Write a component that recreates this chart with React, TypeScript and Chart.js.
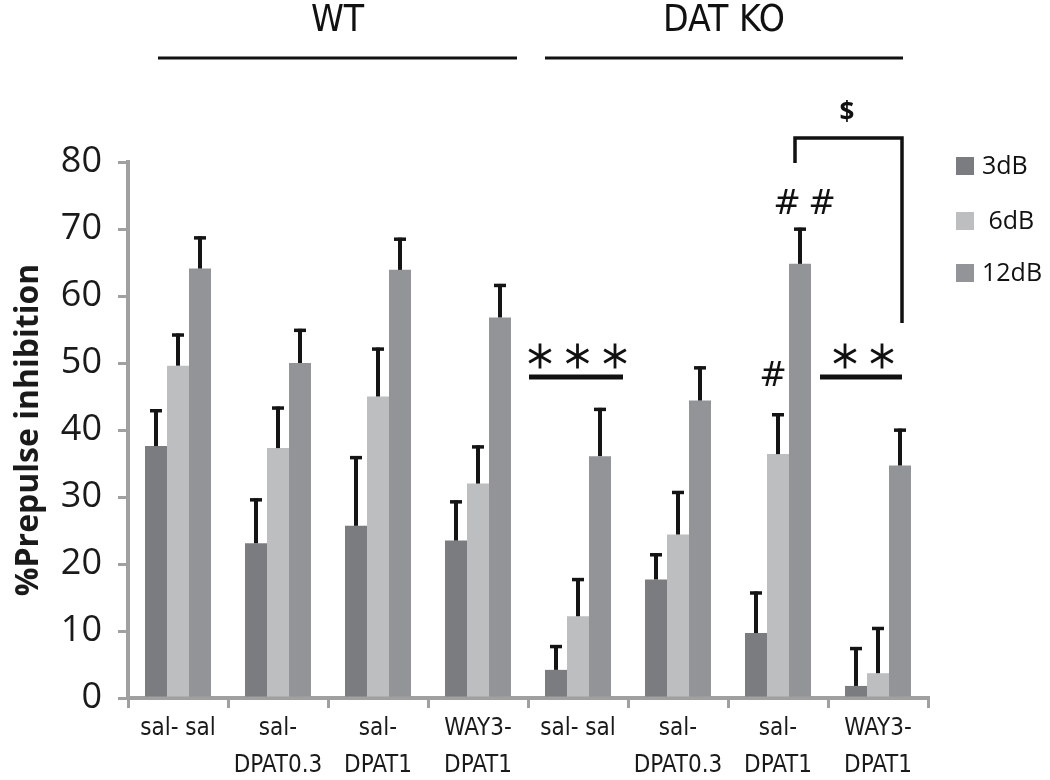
import React, { useEffect, useRef } from "react";
import { Chart, registerables } from "chart.js";

Chart.register(...registerables);

// ---- data ----
const categories: string[][] = [
  ["sal- sal"],
  ["sal-", "DPAT0.3"],
  ["sal-", "DPAT1"],
  ["WAY3-", "DPAT1"],
  ["sal- sal"],
  ["sal-", "DPAT0.3"],
  ["sal-", "DPAT1"],
  ["WAY3-", "DPAT1"],
];
const seriesNames = ["3dB", " 6dB", "12dB"];
const db3 = [37.6, 23.1, 25.7, 23.5, 4.2, 17.7, 9.7, 1.8];
const db3Sem = [5.5, 6.7, 10.4, 6.0, 3.7, 3.9, 6.2, 5.8];
const db6 = [49.6, 37.3, 45.0, 32.0, 12.2, 24.4, 36.4, 3.7];
const db6Sem = [4.8, 6.2, 7.3, 5.7, 5.7, 6.5, 6.1, 6.9];
const db12 = [64.1, 50.0, 63.9, 56.8, 36.1, 44.4, 64.8, 34.7];
const db12Sem = [4.8, 5.1, 4.8, 5.0, 7.2, 5.1, 5.4, 5.5];
const yMin = 0;
const yMax = 80;
const yStep = 10;
const groupLabels = ["WT", "DAT KO"];
const sigTriple = "***";
const sigDouble = "**";
const hashSingle = "#";
const hashDouble = "##";
const dollar = "$";

const colors = ["#7b7c80", "#bdbec0", "#939498"];
const axisGray = "#a0a0a0";
const SANS = "'Open Sans', 'DejaVu Sans', sans-serif";
const NARROW = "'Liberation Sans Narrow', 'DejaVu Sans Condensed', sans-serif";

function drawAsterisk(ctx: CanvasRenderingContext2D, cx: number, cy: number, r: number) {
  ctx.save();
  ctx.strokeStyle = "#111";
  ctx.lineWidth = 2.8;
  ctx.lineCap = "butt";
  for (const a of [90, 30, 150]) {
    const rad = (a * Math.PI) / 180;
    ctx.beginPath();
    ctx.moveTo(cx - r * Math.cos(rad), cy - r * Math.sin(rad));
    ctx.lineTo(cx + r * Math.cos(rad), cy + r * Math.sin(rad));
    ctx.stroke();
  }
  ctx.restore();
}

const errorBarPlugin = {
  id: "errorBars",
  afterDatasetsDraw(chart: any) {
    const ctx = chart.ctx;
    const y = chart.scales.y;
    const sems = [db3Sem, db6Sem, db12Sem];
    ctx.save();
    ctx.strokeStyle = "#141414";
    chart.data.datasets.forEach((ds: any, di: number) => {
      const meta = chart.getDatasetMeta(di);
      meta.data.forEach((bar: any, i: number) => {
        const top = y.getPixelForValue(ds.data[i] + sems[di][i]);
        const base = y.getPixelForValue(ds.data[i]);
        ctx.lineWidth = 4;
        ctx.beginPath();
        ctx.moveTo(bar.x, base);
        ctx.lineTo(bar.x, top);
        ctx.stroke();
        ctx.lineWidth = 3.5;
        ctx.beginPath();
        ctx.moveTo(bar.x - 6, top + 1.5);
        ctx.lineTo(bar.x + 6, top + 1.5);
        ctx.stroke();
      });
    });
    ctx.restore();
  },
};

const annotationPlugin = {
  id: "annotations",
  afterDraw(chart: any) {
    const ctx = chart.ctx;
    const x = chart.scales.x;
    const cw = x.getPixelForValue(1) - x.getPixelForValue(0);
    const c = (i: number) => x.getPixelForValue(i);
    ctx.save();
    // group headers
    ctx.fillStyle = "#111";
    ctx.strokeStyle = "#111";
    ctx.font = `37px ${NARROW}`;
    ctx.textAlign = "center";
    ctx.textBaseline = "middle";
    const hdr = [
      [c(0) - 0.2 * cw, c(3) + 0.39 * cw],
      [c(4) - 0.33 * cw, c(7) + 0.25 * cw],
    ];
    hdr.forEach((h, k) => {
      ctx.fillText(groupLabels[k], (h[0] + h[1]) / 2, 21);
      ctx.lineWidth = 3;
      ctx.beginPath();
      ctx.moveTo(h[0], 58);
      ctx.lineTo(h[1], 58);
      ctx.stroke();
    });

    // *** over KO sal-sal
    const yS = 377;
    ctx.lineWidth = 5;
    ctx.beginPath();
    ctx.moveTo(c(4) - 0.49 * cw, yS);
    ctx.lineTo(c(4) + 0.45 * cw, yS);
    ctx.stroke();
    for (let k = 0; k < sigTriple.length; k++) drawAsterisk(ctx, c(4) - 0.38 * cw + k * 0.375 * cw, 356, 12.5);
    // ** over KO WAY3-DPAT1
    ctx.beginPath();
    ctx.moveTo(c(7) - 0.58 * cw, yS);
    ctx.lineTo(c(7) + 0.24 * cw, yS);
    ctx.stroke();
    for (let k = 0; k < sigDouble.length; k++) drawAsterisk(ctx, c(7) - 0.33 * cw + k * 0.37 * cw, 356, 12.5);

    // hashes
    ctx.font = `33px 'DejaVu Sans', sans-serif`;
    ctx.fillText(hashSingle, c(6) - 0.05 * cw, 377);
    const hs = hashDouble.split("");
    ctx.fillText(hs[0], c(6) + 0.09 * cw, 205);
    ctx.fillText(hs[1], c(6) + 0.44 * cw, 205);

    // bracket and $
    ctx.lineWidth = 3.5;
    ctx.beginPath();
    ctx.moveTo(c(6) + 0.17 * cw, 163);
    ctx.lineTo(c(6) + 0.17 * cw, 138);
    ctx.lineTo(c(7) + 0.24 * cw, 138);
    ctx.lineTo(c(7) + 0.24 * cw, 323);
    ctx.stroke();
    ctx.font = `bold 26px ${SANS}`;
    ctx.fillText(dollar, c(6) + 0.69 * cw, 114);

    // legend
    const legY = [166, 221, 273];
    ctx.textAlign = "left";
    ctx.font = `25px ${SANS}`;
    seriesNames.forEach((n, k) => {
      ctx.fillStyle = colors[k];
      ctx.fillRect(956, legY[k] - 9, 18, 18);
      ctx.fillStyle = "#111";
      ctx.fillText(n, 982, legY[k] + 1);
    });
    ctx.restore();
  },
};

export default function App() {
  const ref = useRef<HTMLCanvasElement | null>(null);
  useEffect(() => {
    if (!ref.current) return;
    const chart = new Chart(ref.current, {
      type: "bar",
      data: {
        labels: categories,
        datasets: [
          { label: seriesNames[0], data: db3, backgroundColor: colors[0] },
          { label: seriesNames[1], data: db6, backgroundColor: colors[1] },
          { label: seriesNames[2], data: db12, backgroundColor: colors[2] },
        ].map((d) => ({ ...d, barPercentage: 1, categoryPercentage: 0.66, borderWidth: 0 })),
      },
      options: {
        responsive: false,
        animation: false,
        layout: { padding: { top: 162, right: 122, left: 0, bottom: 0 } },
        plugins: { legend: { display: false }, tooltip: { enabled: false } },
        scales: {
          x: {
            grid: { drawOnChartArea: false, tickLength: 10, color: axisGray, lineWidth: 3, offset: true },
            border: { display: true, color: axisGray, width: 4 },
            ticks: {
              font: { family: NARROW, size: 24, lineHeight: 1.55 },
              color: "#1a1a1a",
              padding: 2,
              maxRotation: 0,
              autoSkip: false,
            },
            afterFit: (s: any) => {
              s.height = 82;
            },
          },
          y: {
            min: yMin,
            max: yMax,
            ticks: { stepSize: yStep, font: { family: SANS, size: 36 }, color: "#1a1a1a", padding: 16 },
            grid: { drawOnChartArea: false, tickLength: 10, color: axisGray, lineWidth: 3 },
            border: { display: true, color: axisGray, width: 4 },
            title: {
              display: true,
              text: "%Prepulse inhibition",
              font: { family: SANS, size: 32, weight: "bold" },
              color: "#1a1a1a",
              padding: { top: 10, bottom: 0 },
            },
            afterFit: (s: any) => {
              s.width = 128;
            },
          },
        },
      },
      plugins: [errorBarPlugin, annotationPlugin],
    });
    return () => chart.destroy();
  }, []);
  return (
    <div style={{ position: "fixed", left: 0, top: 0, width: 1050, height: 780, background: "#fff" }}>
      <canvas ref={ref} width={1050} height={780} style={{ width: 1050, height: 780, display: "block" }} />
    </div>
  );
}
